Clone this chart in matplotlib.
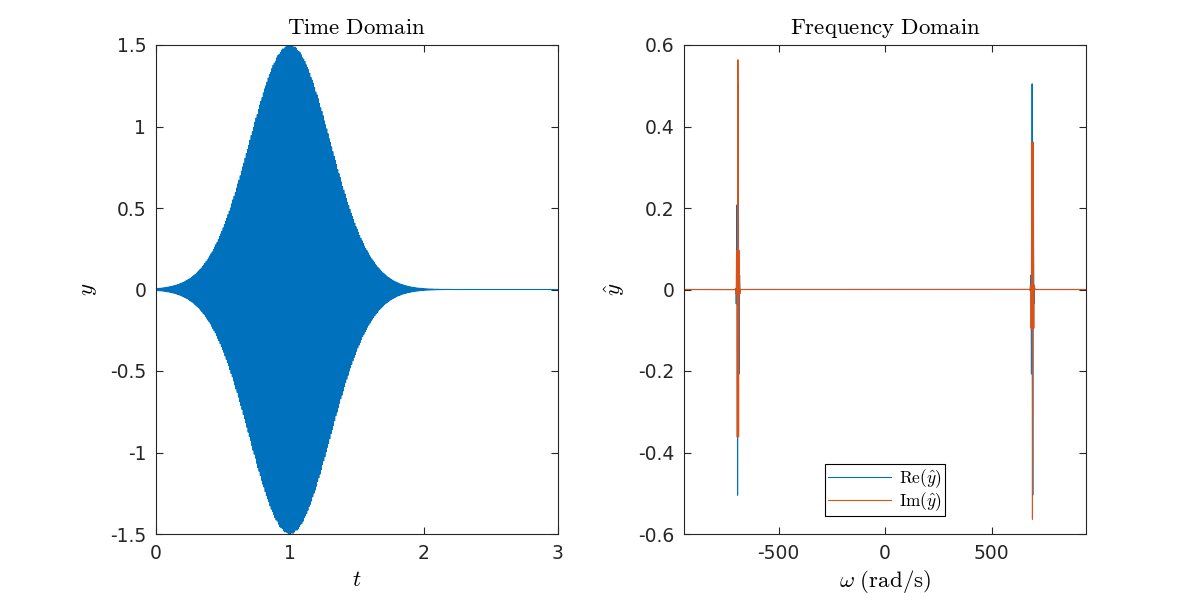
import numpy as np
import matplotlib

matplotlib.use("Agg")
import matplotlib.pyplot as plt
from matplotlib.ticker import FuncFormatter

# signal parameters
fs = 3000.0            # sample rate (Hz)
t_record = [0.0, 4.0]  # recorded window used for the FFT (s)
t_view = [0.0, 3.0]    # shown window (s)
amp = 1.5              # peak of the envelope
t_peak = 1.0           # centre of the envelope (s)
sigma = 0.3            # envelope width (s)
f_carrier = 110.0      # carrier (Hz) -> ~691 rad/s
w_view = [-942.5, 942.5]

t_ticks = [0, 1, 2, 3]
y_ticks = [-1.5, -1, -0.5, 0, 0.5, 1, 1.5]
w_ticks = [-500, 0, 500]
yh_ticks = [-0.6, -0.4, -0.2, 0, 0.2, 0.4, 0.6]

blue = "#0072BD"
orange = "#D95319"
axcol = "#262626"

t = np.arange(t_record[0], t_record[1], 1.0 / fs)
env = amp * np.exp(-((t - t_peak) ** 2) / (2 * sigma**2))
y = env * np.sin(2 * np.pi * f_carrier * t)

N = len(t)
yhat = np.fft.fftshift(np.fft.fft(y)) / fs
w = 2 * np.pi * np.fft.fftshift(np.fft.fftfreq(N, 1.0 / fs))

plt.rcParams["mathtext.fontset"] = "cm"
plt.rcParams["font.family"] = "DejaVu Sans"
plt.rcParams["axes.unicode_minus"] = False

fig = plt.figure(figsize=(12, 6), dpi=100)
ax1 = fig.add_axes([0.13, 0.11, 0.3347, 0.815])
ax2 = fig.add_axes([0.5703, 0.11, 0.3347, 0.815])

fmt = FuncFormatter(lambda v, p: "%g" % v)


def matlab_style(ax):
    for s in ax.spines.values():
        s.set_color(axcol)
        s.set_linewidth(0.8)
    ax.tick_params(direction="in", top=True, right=True, length=5,
                   width=0.8, color=axcol, labelcolor=axcol,
                   labelsize=13.5, pad=7)
    ax.xaxis.set_major_formatter(fmt)
    ax.yaxis.set_major_formatter(fmt)


ax1.plot(t, y, color=blue, lw=0.8)
ax1.set_xlim(t_view)
ax1.set_ylim(-1.5, 1.5)
ax1.set_xticks(t_ticks)
ax1.set_yticks(y_ticks)
matlab_style(ax1)
ax1.set_title(r"$\mathrm{Time\ Domain}$", fontsize=16.5, pad=8)
ax1.set_xlabel(r"$t$", fontsize=16.5, labelpad=4)
ax1.set_ylabel(r"$y$", fontsize=16.5, labelpad=8)

ax2.plot(w, yhat.real, color=blue, lw=0.8, label=r"$\mathrm{Re}(\hat{y})$")
ax2.plot(w, yhat.imag, color=orange, lw=0.8, label=r"$\mathrm{Im}(\hat{y})$")
ax2.set_xlim(w_view)
ax2.set_ylim(-0.6, 0.6)
ax2.set_xticks(w_ticks)
ax2.set_yticks(yh_ticks)
matlab_style(ax2)
ax2.set_title(r"$\mathrm{Frequency\ Domain}$", fontsize=16.5, pad=8)
ax2.set_xlabel(r"$\omega\ \mathrm{(rad/s)}$", fontsize=16.5, labelpad=4)
ax2.set_ylabel(r"$\hat{y}$", fontsize=16.5, labelpad=8)
leg = ax2.legend(loc="lower center", bbox_to_anchor=(0.5, 18 / 489),
                 borderaxespad=0, fontsize=12.5, handlelength=3.6,
                 fancybox=False, framealpha=1, edgecolor="black",
                 borderpad=0.15, labelspacing=0.05, handletextpad=0.5)
leg.get_frame().set_linewidth(0.8)

fig.savefig("out.png", dpi=100)
